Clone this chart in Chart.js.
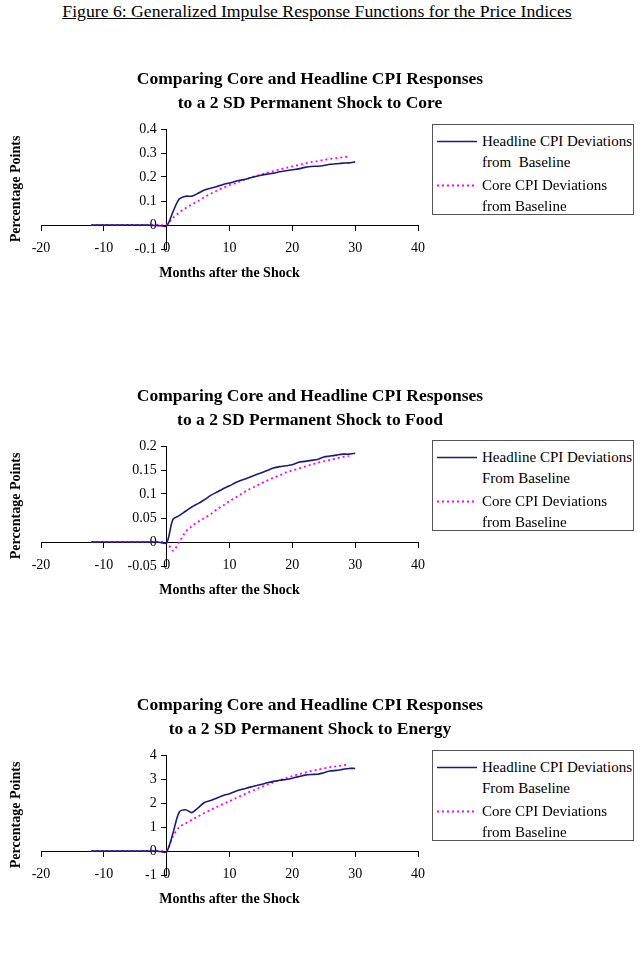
<!DOCTYPE html>
<html>
<head>
<meta charset="utf-8">
<script src="https://cdn.jsdelivr.net/npm/chart.js@4.4.1/dist/chart.umd.min.js"></script>
<style>
  html, body { margin: 0; padding: 0; background: #fff; }
  body { width: 640px; height: 976px; position: relative; overflow: hidden;
         font-family: 'Liberation Serif', 'Times New Roman', serif; color: #000; }
  #fig { position: absolute; top: 1px; left: 0; width: 634px; text-align: center;
         font-size: 17.7px; line-height: 20px; text-decoration: underline; }
  .cv { position: absolute; left: 0; }
  .lg { position: absolute; left: 432px; width: 202px; height: 91px; box-sizing: border-box;
        border: 1px solid #555; background: #fff; padding-top: 5.5px; }
  .item { display: flex; margin-left: 4px; }
  .item + .item { margin-top: 2px; }
  .item svg { flex: none; }
  .txt { white-space: pre; font-size: 15px; line-height: 21px; margin-left: 5px; }
</style>
</head>
<body>
<div id="fig">Figure 6: Generalized Impulse Response Functions for the Price Indices</div>

<canvas id="c1" class="cv" width="620" height="230" style="top:60px"></canvas>
<div id="l1" class="lg" style="top:124px"></div>

<canvas id="c2" class="cv" width="620" height="230" style="top:377px"></canvas>
<div id="l2" class="lg" style="top:440px"></div>

<canvas id="c3" class="cv" width="620" height="230" style="top:686px"></canvas>
<div id="l3" class="lg" style="top:750px"></div>

<script>
// ---------------- data ----------------
const monthsHeadline = [-12,-11,-10,-9,-8,-7,-6,-5,-4,-3,-2,-1,0,1,2,3,4,5,6,7,8,9,10,11,12,13,14,15,16,17,18,19,20,21,22,23,24,25,26,27,28,29,30];
const monthsCore     = [-12,-11,-10,-9,-8,-7,-6,-5,-4,-3,-2,-1,0,1,2,3,4,5,6,7,8,9,10,11,12,13,14,15,16,17,18,19,20,21,22,23,24,25,26,27,28,29];

const xTicks = [-20, -10, 0, 10, 20, 30, 40];

// Shock to Core
const coreShockHeadline = [0,0,0,0,0,0,0,0,0,0,-0.002,-0.003,-0.004,
  0.055,0.108,0.12,0.12,0.132,0.146,0.153,0.16,0.169,0.175,0.182,0.188,0.194,0.201,0.207,0.212,0.216,0.222,0.226,0.23,0.234,0.24,0.244,0.245,0.248,0.253,0.255,0.258,0.259,0.263];
const coreShockCore = [0,0,0,0,0,0,0,0,0,0,0,0,0,
  0.03,0.052,0.07,0.086,0.10,0.116,0.13,0.144,0.155,0.166,0.175,0.185,0.194,0.203,0.21,0.218,0.225,0.232,0.238,0.244,0.25,0.256,0.262,0.266,0.271,0.275,0.279,0.282,0.285];
const yTicksCore = [-0.1, 0, 0.1, 0.2, 0.3, 0.4];

// Shock to Food
const foodShockHeadline = [0,0,0,0,0,0,0,0,0,0,0,-0.001,-0.002,
  0.047,0.055,0.064,0.073,0.080,0.088,0.097,0.104,0.111,0.117,0.124,0.129,0.134,0.139,0.144,0.149,0.154,0.157,0.159,0.161,0.166,0.168,0.170,0.172,0.177,0.179,0.181,0.183,0.183,0.185];
const foodShockCore = [0,0,0,0,0,0,0,0,0,0,0,0,0,
  -0.018,0,0.021,0.033,0.042,0.050,0.058,0.068,0.076,0.085,0.093,0.101,0.109,0.115,0.122,0.128,0.134,0.139,0.145,0.149,0.153,0.157,0.161,0.165,0.168,0.171,0.174,0.177,0.179];
const yTicksFood = [-0.05, 0, 0.05, 0.1, 0.15, 0.2];

// Shock to Energy
const energyShockHeadline = [0,0,0,0,0,0,0,0,0,0,0,-0.02,-0.03,
  0.74,1.62,1.72,1.6,1.8,2.02,2.1,2.21,2.31,2.39,2.49,2.57,2.64,2.71,2.77,2.84,2.9,2.95,2.98,3.03,3.1,3.16,3.19,3.2,3.26,3.33,3.36,3.4,3.44,3.44];
const energyShockCore = [0,0,0,0,0,0,0,0,0,0,0,0,0,
  0.6,1.0,1.15,1.3,1.44,1.58,1.71,1.84,1.96,2.08,2.2,2.32,2.44,2.55,2.66,2.76,2.86,2.95,3.04,3.12,3.2,3.27,3.33,3.39,3.44,3.49,3.53,3.57,3.61];
const yTicksEnergy = [-1, 0, 1, 2, 3, 4];

const chartTitles = [
  ['Comparing Core and Headline CPI Responses', 'to a 2 SD Permanent Shock to Core'],
  ['Comparing Core and Headline CPI Responses', 'to a 2 SD Permanent Shock to Food'],
  ['Comparing Core and Headline CPI Responses', 'to a 2 SD Permanent Shock to Energy']
];
const headlineLabels = [
  'Headline CPI Deviations\nfrom  Baseline',
  'Headline CPI Deviations\nFrom Baseline',
  'Headline CPI Deviations\nFrom Baseline'
];
const coreLabel = 'Core CPI Deviations\nfrom Baseline';
const xTitle = 'Months after the Shock';
const yTitle = 'Percentage Points';

// ---------------- drawing ----------------
const FONT = "'Liberation Serif', 'Times New Roman', serif";
Chart.defaults.font.family = FONT;
Chart.defaults.color = '#000';

// Linear scale whose labels keep tick+padding distance when the axis is positioned at a value
class PosLinearScale extends Chart.LinearScale {
  _computeLabelItems(chartArea) {
    const items = super._computeLabelItems(chartArea);
    const o = this.options;
    if (!this.isHorizontal() && o.position && typeof o.position === 'object') {
      const shift = (o.grid.drawTicks ? o.grid.tickLength : 0) + o.ticks.padding;
      items.forEach(it => {
        if (it.options && Array.isArray(it.options.translation)) it.options.translation[0] -= shift;
      });
    }
    return items;
  }
}
PosLinearScale.id = 'posLinear';
PosLinearScale.defaults = Chart.LinearScale.defaults;
Chart.register(PosLinearScale);

function toPoints(xs, ys) { return xs.map((x, i) => ({ x: x, y: ys[i] })); }

function buildLegend(chart, el) {
  const svgNS = 'http://www.w3.org/2000/svg';
  chart.data.datasets.forEach(ds => {
    const item = document.createElement('div');
    item.className = 'item';
    const svg = document.createElementNS(svgNS, 'svg');
    svg.setAttribute('width', '40');
    svg.setAttribute('height', '21');
    const ln = document.createElementNS(svgNS, 'line');
    ln.setAttribute('x1', '0'); ln.setAttribute('x2', '40');
    ln.setAttribute('y1', '10.5'); ln.setAttribute('y2', '10.5');
    ln.setAttribute('stroke', ds.borderColor);
    ln.setAttribute('stroke-width', ds.borderWidth);
    if (ds.borderDash && ds.borderDash.length) ln.setAttribute('stroke-dasharray', ds.borderDash.join(' '));
    svg.appendChild(ln);
    const txt = document.createElement('div');
    txt.className = 'txt';
    txt.textContent = ds.label;
    item.appendChild(svg);
    item.appendChild(txt);
    el.appendChild(item);
  });
}

function makeChart(canvasId, legendId, title, hLabel, hVals, cVals, yTicks) {
  const chart = new Chart(document.getElementById(canvasId), {
    type: 'line',
    data: {
      datasets: [
        { label: hLabel, data: toPoints(monthsHeadline, hVals),
          borderColor: '#1a1a80', borderWidth: 1.6, pointRadius: 0, tension: 0.3, fill: false },
        { label: coreLabel, data: toPoints(monthsCore, cVals),
          borderColor: '#ff00ff', borderWidth: 1.8, borderDash: [2, 3], pointRadius: 0, tension: 0.3, fill: false }
      ]
    },
    options: {
      responsive: false,
      animation: false,
      devicePixelRatio: 1,
      layout: { padding: { top: 7, left: 0, right: 0, bottom: 0 } },
      plugins: {
        legend: { display: false },
        tooltip: { enabled: false },
        title: {
          display: true, text: title, color: '#000',
          font: { family: FONT, size: 17.5, weight: 'bold', lineHeight: '24px' },
          padding: { top: 0, bottom: 14 }
        }
      },
      scales: {
        x: {
          type: 'linear', position: { y: 0 },
          min: xTicks[0], max: xTicks[xTicks.length - 1],
          afterFit: s => { s.height = 0; },
          afterBuildTicks: s => { s.ticks = xTicks.map(v => ({ value: v })); },
          grid: { drawOnChartArea: false, drawTicks: true, tickLength: 5, color: '#000', lineWidth: 1 },
          border: { display: true, color: '#000', width: 1 },
          ticks: { color: '#000', font: { family: FONT, size: 14 }, padding: 10, maxRotation: 0, autoSkip: false,
                   callback: v => String(v) }
        },
        y: {
          type: 'posLinear', position: { x: 0 },
          min: yTicks[0], max: yTicks[yTicks.length - 1],
          afterFit: s => { s.width = 0; },
          afterBuildTicks: s => { s.ticks = yTicks.map(v => ({ value: v })); },
          grid: { drawOnChartArea: false, drawTicks: true, tickLength: 5, color: '#000', lineWidth: 1 },
          border: { display: true, color: '#000', width: 1 },
          ticks: { color: '#000', font: { family: FONT, size: 14 }, padding: 5, autoSkip: false,
                   callback: v => String(v) }
        },
        xt: {
          axis: 'x', type: 'linear', position: 'bottom', min: 0, max: 1,
          afterFit: s => { s.height = 41; },
          grid: { display: false }, border: { display: false }, ticks: { display: false },
          title: { display: true, text: xTitle, color: '#000',
                   font: { family: FONT, size: 14, weight: 'bold' }, padding: { top: 0, bottom: 8.6 } }
        },
        yt: {
          axis: 'y', type: 'linear', position: 'left', min: 0, max: 1,
          afterFit: s => { s.width = 41; },
          grid: { display: false }, border: { display: false }, ticks: { display: false },
          title: { display: true, text: yTitle, color: '#000',
                   font: { family: FONT, size: 14, weight: 'bold' }, padding: { top: 7.6, bottom: 0 } }
        },
        yr: {
          axis: 'y', type: 'linear', position: 'right', min: 0, max: 1,
          afterFit: s => { s.width = 202; },
          grid: { display: false }, border: { display: false }, ticks: { display: false }
        }
      }
    }
  });
  buildLegend(chart, document.getElementById(legendId));
  return chart;
}

makeChart('c1', 'l1', chartTitles[0], headlineLabels[0], coreShockHeadline, coreShockCore, yTicksCore);
makeChart('c2', 'l2', chartTitles[1], headlineLabels[1], foodShockHeadline, foodShockCore, yTicksFood);
makeChart('c3', 'l3', chartTitles[2], headlineLabels[2], energyShockHeadline, energyShockCore, yTicksEnergy);
</script>
</body>
</html>
